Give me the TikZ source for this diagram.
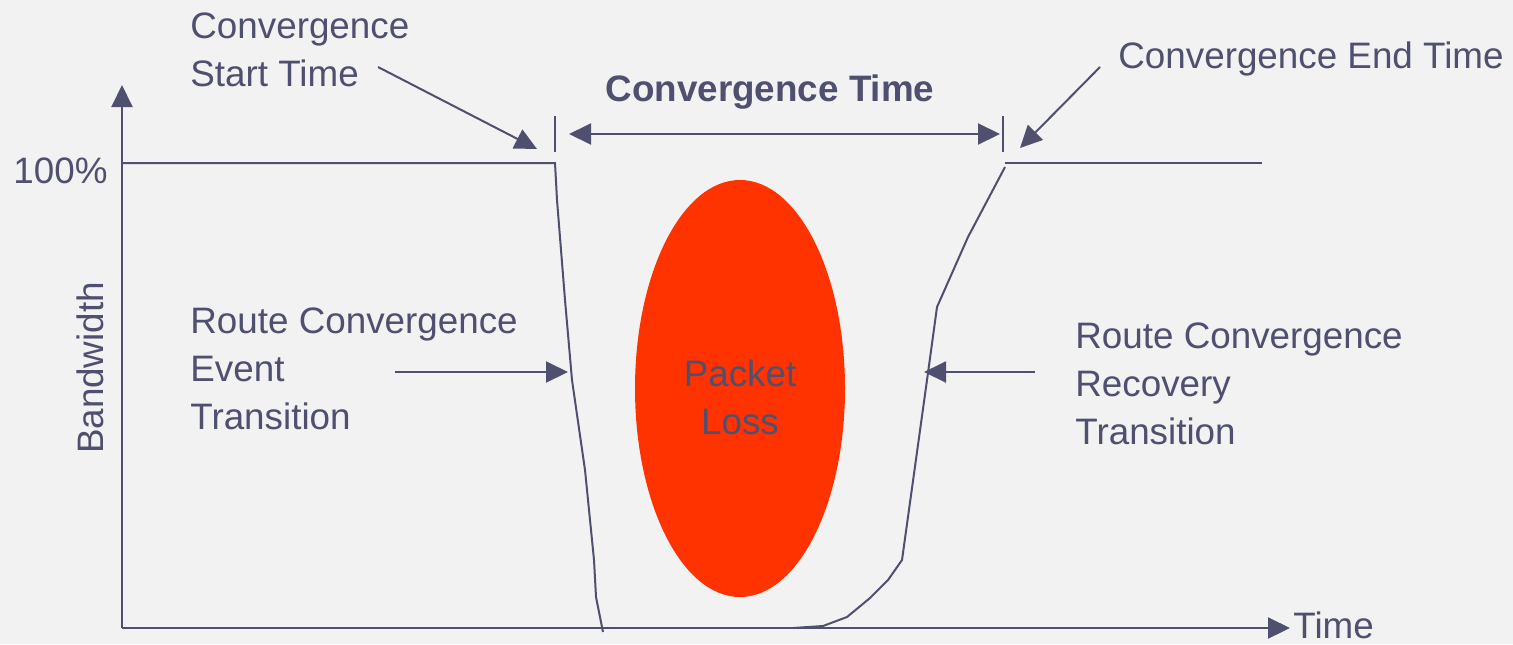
\documentclass[tikz,border=0pt]{standalone}
\usepackage{fontspec}
\setmainfont{Liberation Sans}
\usetikzlibrary{arrows.meta,shapes.geometric}
\definecolor{ink}{HTML}{4F4F70}
\definecolor{lossred}{HTML}{FF3300}
\definecolor{paper}{HTML}{F2F2F2}

\begin{document}
\begin{tikzpicture}[
        x=0.5pt, y=-0.5pt,
        lbl/.style={inner sep=0pt, text=ink, font=\fontsize{18.4}{24}\selectfont, align=left},
        line/.style={draw=ink, line width=1pt},
        arrow/.style={line, -{Triangle[length=11pt, width=10.5pt]}},
        dblarrow/.style={line, {Triangle[length=11pt, width=10.5pt]}-{Triangle[length=11pt, width=10.5pt]}}
    ]
        \fill[paper] (0,0) rectangle (1513,644);
        \useasboundingbox (0,0) rectangle (1513,644);

        % axes
        \coordinate (origin) at (122,628);
        \coordinate (ytop) at (122,85);
        \coordinate (xend) at (1290,628);
        \draw[arrow] (origin) -- (ytop);
        \draw[arrow] (origin) -- (xend);
        \node[lbl, anchor=base west] (timeLbl) at (1293,638) {Time};
        \node[lbl, anchor=base, rotate=90] (bwLbl) at (103,368) {Bandwidth};
        \node[lbl, anchor=base east] (fullLbl) at (108,183) {100\%};

        % bandwidth curve
        \draw[line] (122,163) -- (555,163) -- (557,200) -- (565,300) -- (572,380)
            -- (585,470) -- (594,560) -- (596,597) -- (603,632);
        \draw[line] (1262,163) -- (1005,163);
        \draw[line] (1005,167) -- (968,237) -- (937,307) -- (927,380) -- (902,560)
            -- (888,580) -- (870,598) -- (847,617) -- (823,626) -- (793,628);

        % packet loss
        \node[ellipse, fill=lossred, inner sep=0pt, minimum width=105pt, minimum height=208.5pt] (loss) at (740,388.5) {};
        \node[lbl, align=center] (lossLbl) at (740,397.5) {Packet\\Loss};

        % convergence time
        \coordinate (tStart) at (555,116);
        \coordinate (tEnd) at (1003,116);
        \draw[line] (tStart) -- ++(0,36);
        \draw[line] (tEnd) -- ++(0,36);
        \coordinate (spanL) at (569,134);
        \coordinate (spanR) at (1000,134);
        \draw[dblarrow] (spanL) -- (spanR);
        \node[lbl, font=\fontsize{18.4}{24}\selectfont\bfseries, anchor=base] (convLbl) at (770,101) {Convergence Time};

        \node[lbl, anchor=north west] (startLbl) at (190,12) {Convergence\\Start Time};
        \coordinate (startFrom) at (378,67);
        \coordinate (startTip) at (537,149);
        \draw[arrow] (startFrom) -- (startTip);

        \node[lbl, anchor=base west] (endLbl) at (1118,68) {Convergence End Time};
        \coordinate (endFrom) at (1100,67);
        \coordinate (endTip) at (1020,148);
        \draw[arrow] (endFrom) -- (endTip);

        % transitions
        \node[lbl, anchor=north west] (eventLbl) at (190,307) {Route Convergence\\Event\\Transition};
        \coordinate (eventFrom) at (395,372);
        \coordinate (eventTip) at (568,372);
        \draw[arrow] (eventFrom) -- (eventTip);

        \node[lbl, anchor=north west] (recovLbl) at (1075,322) {Route Convergence\\Recovery\\Transition};
        \coordinate (recovFrom) at (1035,372);
        \coordinate (recovTip) at (924,372);
        \draw[arrow] (recovFrom) -- (recovTip);
    \end{tikzpicture}
\end{document}
